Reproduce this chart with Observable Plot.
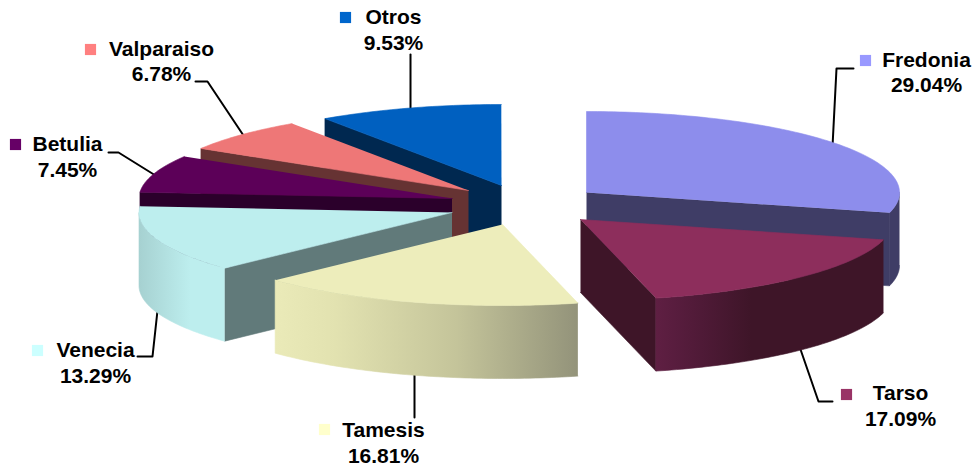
<!DOCTYPE html>
<html>
<head>
<meta charset="utf-8">
<script src="https://cdn.jsdelivr.net/npm/d3@7"></script>
<script src="https://cdn.jsdelivr.net/npm/@observablehq/plot@0.6"></script>
<style>html,body{margin:0;padding:0;background:#fff}svg{display:block}</style>
</head>
<body>
<div id="chart"></div>
<script>
// Data
const categories = ["Fredonia","Tarso","Tamesis","Venecia","Betulia","Valparaiso","Otros"];
const shares = [29.04,17.09,16.81,13.29,7.45,6.78,9.53];

// Styles
const topColors = ["#8d8dec","#8d2e5c","#ededbb","#bdeeee","#5c0058","#ee7777","#0060c0"];
const keyColors = ["#9999ff","#993366","#ffffcc","#ccffff","#660066","#ff8080","#0066cc"];
const cutColors = ["#3f3d66","#3e1528","#a0a080","#617a7a","#2b002b","#663333","#002850"];
const wallStops = [
  [["#3f3d66",0],["#3f3d66",1]],
  [["#5f1f43",0],["#4f1a37",0.2],["#3e1528",0.42],["#3e1528",1]],
  [["#eaeab8",0],["#e2e2b0",0.2],["#c4c49a",0.6],["#93937a",1]],
  [["#a6d1d1",0],["#bdeeee",0.6],["#bdeeee",1]],
  [["#2b002b",0],["#2b002b",1]],
  [["#663333",0],["#663333",1]],
  [["#002850",0],["#002850",1]]
];

// Layout of the exploded 3D pie
const apexX = [586,580,502,451.5,451.5,468,501];
const apexY = [192,219,224,212,198,190,185];
const radiusX = 313, radiusY = 81, depth = 73;
const drawOrder = [6,5,4,0,3,1,2];
const keyX = [865,846,324,37,15,90,345];
const keyY = [60,394,429,350,144,49,17];
const textX = [926,900,383,95,67,161,393];
const nameY = [60,393,430,350,144,49,17];
const pctY = [85,419,456,376,170,74,43];
const leaders = [
  [[832,146],[836,68],[853,68]],
  [[799,346],[818,401],[832,401]],
  [[414,372],[414,417]],
  [[157,310],[152,356],[137,356]],
  [[155,175],[118,152],[108,152]],
  [[245,138],[207,81],[195,81]],
  [[410,110],[410,54]]
];

const toPoint = ([x, y]) => ({x, y});
const face = (pts, fill) => Plot.line(pts, {x: "x", y: "y", fill, stroke: fill, strokeWidth: 0.6, curve: "linear"});

// Angles in degrees, clockwise from the top, accumulated from the shares
const ends = d3.cumsum(shares).map(v => v / 100 * 360);
const starts = ends.map((_, i) => i ? ends[i - 1] : 0);

function rim(i, a, dz = 0) {
  const r = a * Math.PI / 180;
  return {x: apexX[i] + radiusX * Math.sin(r), y: apexY[i] - radiusY * Math.cos(r) + dz};
}
function arc(i, a0, a1, dz = 0) {
  const n = Math.max(2, Math.ceil(Math.abs(a1 - a0)));
  return d3.range(n + 1).map(k => rim(i, a0 + (a1 - a0) * k / n, dz));
}
function sliceMarks(i) {
  const a0 = starts[i], a1 = ends[i];
  const apex = {x: apexX[i], y: apexY[i]};
  const low = {x: apexX[i], y: apexY[i] + depth};
  const marks = [];
  const cut = a => [apex, rim(i, a), rim(i, a, depth), low];
  if (a0 >= 180) marks.push(face(cut(a0), cutColors[i]));
  if (a1 <= 180) marks.push(face(cut(a1), cutColors[i]));
  const w0 = Math.max(a0, 90), w1 = Math.min(a1, 270);
  if (w1 > w0) {
    marks.push(face([...arc(i, w0, w1), ...arc(i, w1, w0, depth)], `url(#wall${i})`));
  }
  marks.push(face([apex, ...arc(i, a0, a1)], topColors[i]));
  return marks;
}

function defsMark() {
  const defs = d3.create("svg:defs");
  wallStops.forEach((stops, i) => {
    const g = defs.append("linearGradient").attr("id", `wall${i}`)
      .attr("x1", 0).attr("x2", 1).attr("y1", 0).attr("y2", 0);
    stops.forEach(([c, o]) => g.append("stop").attr("offset", o).attr("stop-color", c));
  });
  return defs.node();
}

const rows = categories.map((name, i) => ({
  name, pct: shares[i].toFixed(2) + "%",
  kx: keyX[i], ky: keyY[i], tx: textX[i], ny: nameY[i], py: pctY[i], key: keyColors[i]
}));
const textStyle = {fontFamily: "'Liberation Sans', Arial, sans-serif", fontWeight: "bold", fontSize: 21, fill: "#000", textAnchor: "middle", lineAnchor: "middle"};

const chart = Plot.plot({
  width: 973, height: 467,
  margin: 0,
  x: {domain: [0, 973], range: [0, 973], axis: null},
  y: {domain: [0, 467], range: [0, 467], axis: null},
  style: {background: "#fff"},
  marks: [
    defsMark,
    ...leaders.map(l => Plot.line(l.map(toPoint), {x: "x", y: "y", stroke: "#000", strokeWidth: 2, curve: "linear"})),
    ...drawOrder.flatMap(sliceMarks),
    Plot.dot(rows, {x: "kx", y: "ky", symbol: "square", r: 6.3, fill: d => d.key, stroke: "none"}),
    Plot.text(rows, {x: "tx", y: "ny", text: "name", ...textStyle}),
    Plot.text(rows, {x: "tx", y: "py", text: "pct", ...textStyle})
  ]
});
document.getElementById("chart").appendChild(chart);
</script>
</body>
</html>
